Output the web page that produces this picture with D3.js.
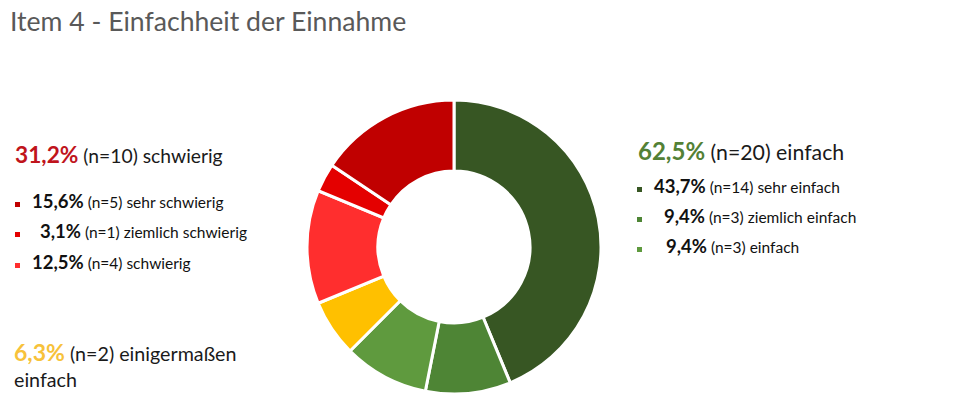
<!DOCTYPE html>
<html lang="de">
<head>
<meta charset="UTF-8">
<title>Item 4 - Einfachheit der Einnahme</title>
<script src="https://d3js.org/d3.v7.min.js"></script>
<style>
  body { margin: 0; background: #fff; }
  svg text { font-family: Lato, "Open Sans", sans-serif; }
</style>
</head>
<body>
<script>
// chart data
var categories = ["sehr einfach", "ziemlich einfach", "einfach", "einigermaßen einfach",
                  "schwierig", "ziemlich schwierig", "sehr schwierig"];
var counts = [14, 3, 3, 2, 4, 1, 5];
var percents = ["43,7%", "9,4%", "9,4%", "6,3%", "12,5%", "3,1%", "15,6%"];
var colors = ["#375623", "#4e8535", "#5f9a3e", "#ffc000", "#ff2e2e", "#e40000", "#c00000"];

// summary groups
var groupPercents = ["62,5%", "6,3%", "31,2%"];
var groupCounts = [20, 2, 10];
var groupLabels = ["einfach", "einigermaßen einfach", "schwierig"];
var groupColors = ["#538135", "#f7c23a", "#c0141c"];

var w = 953, h = 398;
var svg = d3.select("body").append("svg")
  .attr("width", w)
  .attr("height", h);

// title
svg.append("text")
  .attr("x", 10).attr("y", 31)
  .attr("font-size", 26.6)
  .attr("fill", "#595959")
  .text("Item 4 - Einfachheit der Einnahme");

// donut
var cx = 454, cy = 247, outerR = 147, innerR = 76;
var pie = d3.pie().sort(null).value(function(d) { return d; });
var arc = d3.arc().innerRadius(innerR).outerRadius(outerR);

svg.append("g")
  .attr("transform", "translate(" + cx + "," + cy + ")")
  .selectAll("path")
  .data(pie(counts))
  .enter().append("path")
  .attr("d", arc)
  .attr("fill", function(d, i) { return colors[i]; })
  .attr("stroke", "#fff")
  .attr("stroke-width", 3);

// group headline
function headline(x, y, gi, size, size2) {
  var t = svg.append("text").attr("x", x).attr("y", y).attr("font-size", size);
  t.append("tspan").attr("font-weight", "bold").attr("fill", groupColors[gi]).text(groupPercents[gi]);
  t.append("tspan").attr("fill", "#1a1a1a").attr("font-size", size2)
    .text(" (n=" + groupCounts[gi] + ") " + groupLabels[gi]);
  return t;
}

// legend row with small square
function row(x, textX, y, i, size2) {
  svg.append("rect")
    .attr("x", x).attr("y", y - 6).attr("width", 5).attr("height", 5)
    .attr("fill", colors[i]);
  var t = svg.append("text").attr("x", textX).attr("y", y).attr("fill", "#111");
  t.append("tspan").attr("font-weight", "bold").attr("font-size", 18.5).text(percents[i]);
  t.append("tspan").attr("font-size", size2).text(" (n=" + counts[i] + ") " + categories[i]);
}

// right side: einfach
headline(638, 160, 0, 24, 21.3);
row(637, 654, 193, 0, 15.5);
row(637, 664, 223, 1, 15.5);
row(637, 666, 253, 2, 15.5);

// left side: schwierig
headline(15, 163, 2, 22.7, 19.3);
row(15, 32, 208, 6, 15.5);
row(15, 40, 238, 5, 15.5);
row(15, 32, 269, 4, 15.5);

// bottom left: einigermaßen einfach
var t3 = svg.append("text").attr("x", 14).attr("y", 361).attr("font-size", 23);
t3.append("tspan").attr("font-weight", "bold").attr("fill", groupColors[1]).text(groupPercents[1]);
t3.append("tspan").attr("fill", "#1a1a1a").attr("font-size", 19.7)
  .text(" (n=" + groupCounts[1] + ") einigermaßen");
svg.append("text").attr("x", 14).attr("y", 387).attr("font-size", 19.7)
  .attr("fill", "#1a1a1a").text("einfach");
</script>
</body>
</html>
